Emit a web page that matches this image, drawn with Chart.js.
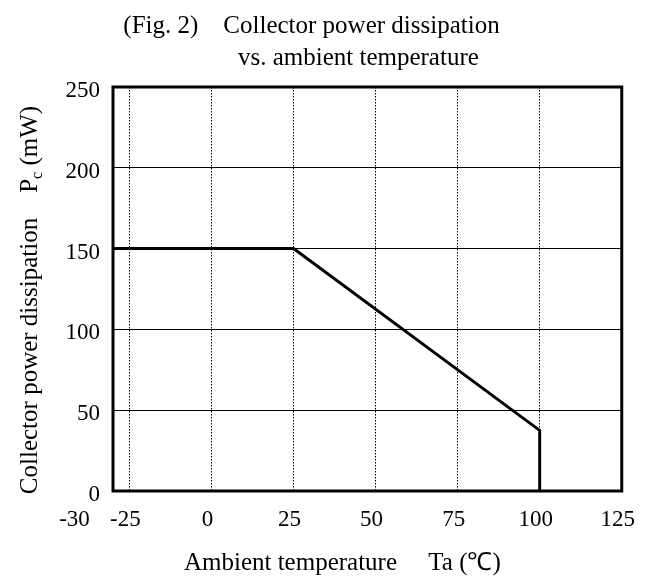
<!DOCTYPE html>
<html>
<head>
<meta charset="utf-8">
<script src="https://cdn.jsdelivr.net/npm/chart.js@4/dist/chart.umd.min.js"></script>
<style>
html, body { margin: 0; padding: 0; background: #fff; }
canvas { display: block; }
</style>
</head>
<body>
<canvas id="c" width="654" height="583"></canvas>
<script>
// ---- data ----
const temperatureC = [-30, 25, 100, 100];
const powerMW = [150, 150, 37.5, 0];

const xTickValues = [-30, -25, 0, 25, 50, 75, 100, 125];
const xTickLabels = ['-30', '-25', '0', '25', '50', '75', '100', '125'];
const yTickValues = [0, 50, 100, 150, 200, 250];
const yTickLabels = ['0', '50', '100', '150', '200', '250'];

const titleLine1 = '(Fig. 2)    Collector power dissipation';
const titleLine2 = 'vs. ambient temperature';
const xTitle = 'Ambient temperature     Ta (\u2103)';
const yTitleMain = 'Collector power dissipation    P';
const yTitleSub = 'c';
const yTitleUnit = ' (mW)';

const FONT = "'Liberation Serif', 'Times New Roman', serif";

const framePlugin = {
  id: 'frame',
  afterDatasetsDraw(chart) {
    const { ctx, chartArea: a } = chart;
    ctx.save();
    ctx.strokeStyle = '#000';
    ctx.lineWidth = 3;
    ctx.strokeRect(a.left, a.top, a.right - a.left, a.bottom - a.top);
    ctx.restore();
  }
};

const yTitlePlugin = {
  id: 'yTitle',
  afterDraw(chart) {
    const { ctx, chartArea: a } = chart;
    const mainFont = '25px ' + FONT;
    const subFont = '16px ' + FONT;
    ctx.save();
    ctx.fillStyle = '#000';
    ctx.textBaseline = 'alphabetic';
    ctx.textAlign = 'left';
    ctx.font = mainFont;
    const w1 = ctx.measureText(yTitleMain).width;
    const w3 = ctx.measureText(yTitleUnit).width;
    ctx.font = subFont;
    const w2 = ctx.measureText(yTitleSub).width;
    const total = w1 + w2 + w3;
    const cy = (a.top + a.bottom) / 2 + 11;
    ctx.translate(37, cy);
    ctx.rotate(-Math.PI / 2);
    let x = -total / 2;
    ctx.font = mainFont;
    ctx.fillText(yTitleMain, x, 0);
    x += w1;
    ctx.font = subFont;
    ctx.fillText(yTitleSub, x, 5);
    x += w2;
    ctx.font = mainFont;
    ctx.fillText(yTitleUnit, x, 0);
    ctx.restore();
  }
};

new Chart(document.getElementById('c'), {
  type: 'line',
  data: {
    datasets: [{
      data: temperatureC.map((t, i) => ({ x: t, y: powerMW[i] })),
      borderColor: '#000',
      borderWidth: 3,
      pointRadius: 0,
      tension: 0,
      fill: false,
      borderJoinStyle: 'miter'
    }]
  },
  options: {
    responsive: false,
    animation: false,
    events: [],
    layout: { padding: { left: 0, right: 31, top: 0, bottom: 0 } },
    plugins: {
      legend: { display: false },
      tooltip: { enabled: false },
      title: {
        display: true,
        text: [titleLine1, ' '.repeat(15) + titleLine2],
        color: '#000',
        font: { family: FONT, size: 25, weight: 'normal', lineHeight: 1.26 },
        padding: { top: 11, bottom: 13 }
      }
    },
    scales: {
      x: {
        type: 'linear',
        min: xTickValues[0],
        max: xTickValues[xTickValues.length - 1],
        afterBuildTicks: s => { s.ticks = xTickValues.map(v => ({ value: v })); },
        afterFit: s => { s.height = 92; },
        ticks: {
          autoSkip: false,
          maxRotation: 0,
          minRotation: 0,
          color: '#000',
          font: { family: FONT, size: 23 },
          padding: 15,
          labelOffset: -4,
          callback: v => {
            const i = xTickValues.indexOf(v);
            return i === 0 ? xTickLabels[i] + ' '.repeat(12) : xTickLabels[i];
          }
        },
        grid: { color: '#000', lineWidth: 1, drawTicks: false },
        border: { display: false, dash: [1.5, 1.5] },
        title: {
          display: true,
          text: xTitle + ' '.repeat(8),
          color: '#000',
          font: { family: FONT, size: 25, weight: 'normal' },
          padding: { top: 0, bottom: 5 }
        }
      },
      y: {
        type: 'linear',
        min: yTickValues[0],
        max: yTickValues[yTickValues.length - 1],
        afterBuildTicks: s => { s.ticks = yTickValues.map(v => ({ value: v })); },
        afterFit: s => { s.width = 113; },
        ticks: {
          color: '#000',
          font: { family: FONT, size: 23 },
          padding: 13,
          labelOffset: 4,
          callback: v => yTickLabels[yTickValues.indexOf(v)]
        },
        grid: { color: '#000', lineWidth: 1, drawTicks: false },
        border: { display: false }
      }
    }
  },
  plugins: [framePlugin, yTitlePlugin]
});
</script>
</body>
</html>
